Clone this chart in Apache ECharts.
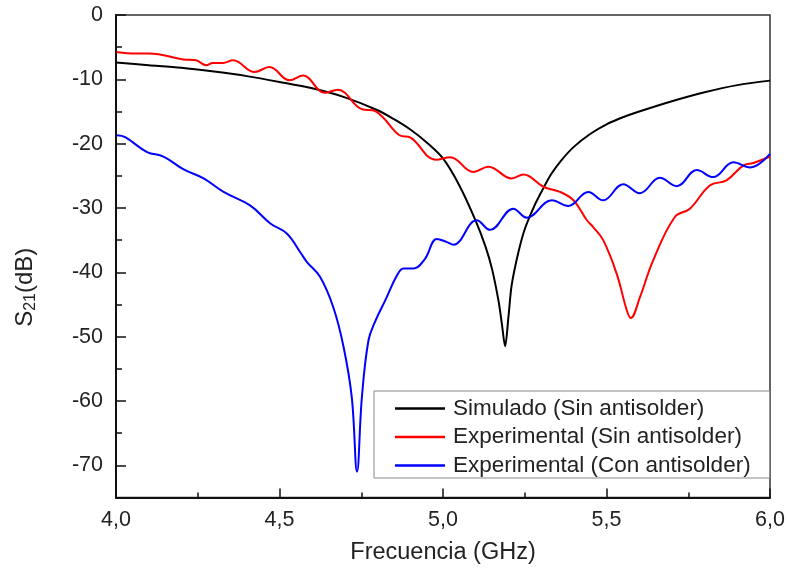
<!DOCTYPE html>
<html>
<head>
<meta charset="utf-8">
<script src="https://cdn.jsdelivr.net/npm/echarts@6/dist/echarts.min.js"></script>
<style>
html,body{margin:0;padding:0;background:#fff;}
#chart{width:788px;height:573px;}
</style>
</head>
<body>
<div id="chart"></div>
<script>
// ---- data ----
const seriesNames = ['Simulado (Sin antisolder)', 'Experimental (Sin antisolder)', 'Experimental (Con antisolder)'];

const simFreq = [4.00,4.10,4.20,4.30,4.40,4.50,4.60,4.70,4.80,4.85,4.90,4.95,5.00,5.05,5.10,5.13,5.15,5.17,5.18,5.19,5.20,5.21,5.23,5.25,5.28,5.30,5.33,5.36,5.40,5.45,5.50,5.55,5.60,5.70,5.80,5.90,6.00];
const simDb   = [-7.4,-7.8,-8.2,-8.8,-9.5,-10.4,-11.4,-12.8,-14.8,-16.2,-17.8,-19.8,-22.3,-26.5,-32.0,-36.0,-39.5,-44.5,-48.0,-51.5,-47.0,-42.0,-37.0,-33.3,-29.6,-27.6,-24.8,-22.7,-20.5,-18.5,-17.0,-15.9,-15.0,-13.4,-12.0,-10.9,-10.2];

const expSinFreq = [4.001,4.062,4.102,4.205,4.245,4.276,4.296,4.327,4.358,4.424,4.469,4.531,4.572,4.638,4.678,4.755,4.785,4.816,4.867,4.902,4.979,5.022,5.093,5.139,5.210,5.246,5.307,5.358,5.399,5.440,5.460,5.490,5.531,5.562,5.574,5.602,5.643,5.709,5.755,5.816,5.867,5.918,5.949,6.000];
const expSinDb   = [-5.75,-6.0,-6.0,-6.9,-7.05,-7.8,-7.45,-7.45,-7.05,-8.85,-8.1,-10.15,-9.4,-12.1,-11.6,-14.7,-14.8,-15.9,-18.7,-19.1,-22.5,-22.1,-24.4,-23.6,-25.4,-24.8,-26.7,-27.5,-28.8,-31.9,-33.0,-35.0,-40.2,-45.9,-47.1,-43.9,-38.1,-31.4,-30.1,-26.5,-25.7,-23.4,-23.0,-22.0];

const expConFreq = [4.003,4.028,4.095,4.145,4.207,4.268,4.329,4.410,4.472,4.523,4.565,4.584,4.624,4.665,4.696,4.721,4.737,4.752,4.772,4.792,4.823,4.859,4.879,4.910,4.945,4.981,5.012,5.032,5.103,5.144,5.215,5.256,5.333,5.383,5.444,5.490,5.551,5.602,5.663,5.715,5.776,5.826,5.888,5.939,6.000];
const expConDb   = [-18.7,-19.0,-21.3,-22.0,-24.0,-25.4,-27.5,-29.6,-32.4,-34.0,-37.0,-38.4,-40.7,-45.5,-51.6,-59.4,-71.0,-59.4,-50.6,-47.7,-44.4,-40.5,-39.4,-39.4,-37.9,-34.8,-35.3,-35.7,-31.9,-33.4,-30.1,-31.5,-28.8,-29.7,-27.5,-28.8,-26.3,-27.7,-25.3,-26.6,-24.1,-25.2,-22.9,-23.7,-21.6];

const xMin = 4, xMax = 6, xStep = 0.5;
const yMin = -75, yMax = 0, yMinorStep = 5, yMajorStep = 10, yMajorMin = -70;

// ---- chart ----
const FONT = '"Liberation Sans", Arial, sans-serif';
const pair = (xs, ys) => xs.map((x, i) => [x, ys[i]]);
const chart = echarts.init(document.getElementById('chart'), null, {renderer: 'canvas'});

const option = {
  backgroundColor: '#fff',
  animation: false,
  grid: [
    {left: 116, right: 18, top: 15, bottom: 75.5, show: true, borderColor: '#333', borderWidth: 1.5, backgroundColor: 'transparent'},
    {left: 116, right: 18, top: 15, height: 450.3, show: false}
  ],
  xAxis: [
    {
      type: 'value', gridIndex: 0, min: xMin, max: xMax, interval: xStep,
      name: 'Frecuencia (GHz)', nameLocation: 'middle', nameGap: 43,
      nameTextStyle: {fontFamily: FONT, fontSize: 23.5, color: '#222'},
      axisLine: {show: true, onZero: false, lineStyle: {color: '#111', width: 2}},
      axisTick: {show: true, inside: true, length: 9, lineStyle: {color: '#111', width: 1.5}},
      minorTick: {show: true, splitNumber: 2, length: 5, lineStyle: {color: '#111', width: 1.5}},
      splitLine: {show: false},
      axisLabel: {fontFamily: FONT, fontSize: 21.5, color: '#222', margin: 12,
        formatter: v => v.toFixed(1).replace('.', ',')}
    },
    {type: 'value', gridIndex: 1, min: xMin, max: xMax, show: false}
  ],
  yAxis: [
    {
      type: 'value', gridIndex: 0, min: yMin, max: yMax, interval: yMinorStep,
      name: '{a|S}{b|21}{a|(dB)}', nameLocation: 'middle', nameGap: 77, nameRotate: 90,
      nameTextStyle: {fontFamily: FONT, fontSize: 24, color: '#222', padding: [0, 62, 0, 0],
        rich: {
          a: {fontFamily: FONT, fontSize: 24, color: '#222'},
          b: {fontFamily: FONT, fontSize: 16, color: '#222', verticalAlign: 'bottom', padding: [11, 0, 0, 0]}
        }},
      axisLine: {show: true, onZero: false, lineStyle: {color: '#111', width: 2}},
      axisTick: {show: true, inside: true, length: 6, lineStyle: {color: '#111', width: 1.5}},
      splitLine: {show: false},
      axisLabel: {fontFamily: FONT, fontSize: 21.5, color: '#222', margin: 13,
        formatter: v => (Math.round(v) % yMajorStep === 0 ? String(Math.round(v)) : '')}
    },
    {
      type: 'value', gridIndex: 1, min: yMajorMin, max: yMax, interval: yMajorStep,
      axisLine: {show: false},
      axisTick: {show: true, inside: true, length: 10, lineStyle: {color: '#111', width: 1.5}},
      axisLabel: {show: false}, splitLine: {show: false}
    }
  ],
  legend: {
    orient: 'vertical', left: 374, top: 391,
    padding: [6, 19, 1, 21],
    itemWidth: 50, itemHeight: 2.5, itemGap: 5.5,
    icon: 'rect',
    borderColor: '#888', borderWidth: 1, backgroundColor: '#fff',
    textStyle: {fontFamily: FONT, fontSize: 22.5, color: '#222', lineHeight: 22, padding: [0, 0, 0, 3]},
    data: seriesNames
  },
  series: [
    {name: seriesNames[0], type: 'line', data: pair(simFreq, simDb), showSymbol: false, symbol: 'none', smooth: 0.3,
      lineStyle: {color: '#000', width: 2}, itemStyle: {color: '#000'}, z: 3},
    {name: seriesNames[1], type: 'line', data: pair(expSinFreq, expSinDb), showSymbol: false, symbol: 'none', smooth: 0.4,
      lineStyle: {color: '#ff0000', width: 2}, itemStyle: {color: '#ff0000'}, z: 4},
    {name: seriesNames[2], type: 'line', data: pair(expConFreq, expConDb), showSymbol: false, symbol: 'none', smooth: 0.4,
      lineStyle: {color: '#0000ff', width: 2}, itemStyle: {color: '#0000ff'}, z: 5}
  ]
};
chart.setOption(option);
</script>
</body>
</html>
